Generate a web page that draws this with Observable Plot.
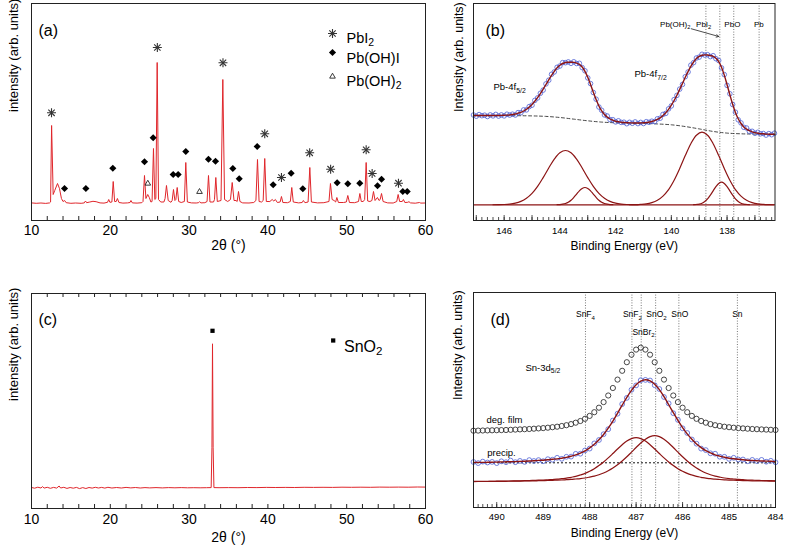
<!DOCTYPE html>
<html><head><meta charset="utf-8">
<script src="https://cdn.jsdelivr.net/npm/d3@7"></script>
<script src="https://cdn.jsdelivr.net/npm/@observablehq/plot@0.6"></script>
<style>
body{margin:0;background:#fff}
#wrap{position:relative;width:787px;height:552px;background:#fff;overflow:hidden}
</style></head><body><div id="wrap"></div>
<script>
// ---------- (a) XRD of degraded film ----------
const aAngle = [10.0,10.6,11.2,11.8,12.3,12.42,12.55,12.75,12.95,13.3,13.55,13.8,14.0,14.2,14.4,15.0,15.6,16.3,16.7,16.85,17.0,17.4,17.8,18.2,18.7,19.2,19.65,19.8,19.95,20.2,20.37,20.55,20.75,20.9,21.1,21.6,22.2,22.5,22.62,22.8,23.4,24.0,24.15,24.34,24.52,24.75,24.95,25.15,25.3,25.48,25.65,25.78,25.95,26.12,26.4,26.8,26.95,27.13,27.35,27.7,27.85,28.02,28.2,28.32,28.49,28.68,29.0,29.4,29.58,29.78,30.3,30.9,31.2,31.32,31.5,32.0,32.28,32.46,32.65,33.1,33.22,33.39,33.58,34.05,34.28,34.5,34.9,35.25,35.47,35.7,35.95,36.1,36.27,36.45,36.8,37.6,38.2,38.48,38.68,38.88,39.2,39.4,39.6,39.8,40.25,40.54,40.75,40.95,41.2,41.55,41.72,41.9,42.5,42.85,43.03,43.22,43.9,44.35,44.5,44.7,45.1,45.32,45.52,46.3,47.1,47.75,47.94,48.15,48.4,48.6,48.75,48.95,49.6,49.95,50.14,50.35,51.0,51.5,51.67,51.85,52.1,52.28,52.47,52.66,52.95,53.2,53.4,53.6,53.9,54.1,54.25,54.42,54.62,55.2,55.9,56.35,56.53,56.72,57.05,57.2,57.38,57.75,57.9,58.1,58.7,59.25,59.4,60.0];
const aInt = [0.6,0.2,0.5,0.1,0.6,1.5,78,9,13,20,15,5,2,3,0.8,0.2,0.5,0.2,0.6,2.5,0.8,1.5,2.2,1.8,0.6,0.4,1.2,4,1.2,1.5,22,2,2,5,1,0.4,0.6,1,3,0.6,0.4,0.8,2,28,5,9,6,1.5,2,55,4,5,141,4,1.5,1.5,5,18,3,1.2,3,14,3,4,16,2,1,2,41,1.5,0.6,0.5,0.8,1.8,0.6,0.8,2,28,1.5,1.5,4,26,2,3,124,4,2,4,21,3,3,2,12,2,0.6,0.5,1,3,44,2,1.5,3,45,2,2,4,2.5,4,1,1.5,7,1,0.8,2,16,1.5,0.6,1,3,0.8,1.5,36,1.5,0.6,0.8,2,20,4,3,1.5,6,1,1,1.5,8,1,0.8,2,10,2,2,4,41,2.5,2,3,12,3,6,3,4,10,2,0.6,0.5,2,9,2,2,4,1,1.2,1.8,0.6,0.3,1,0.4,0.5];
const pbi2Angle = [12.54,25.97,34.3,39.6,41.72,45.3,47.96,52.47,53.23,56.57];
const pbi2Mark  = [90.7,156,140.7,69.7,26,50.7,34.3,53.7,30,20.3];
const pbohiAngle = [14.19,16.9,20.32,24.34,25.44,27.98,28.61,29.58,32.46,33.35,35.55,36.36,38.64,40.67,42.95,44.43,48.79,50.14,51.66,53.91,54.42,57.12,57.68];
const pbohiMark  = [15,15,35.3,41.7,65.7,29,29,52,44.3,42.3,35,24.7,57,18.7,30.3,14.7,20.7,19.7,20.3,17.7,24.3,12,12];
const pboh2Angle = [24.76,31.32];
const pboh2Mark  = [20,11.7];
const aLegend = ["PbI_{2}","Pb(OH)I","Pb(OH)_{2}"];
const twoThetaTicks = [10,20,30,40,50,60];

// ---------- (c) XRD of precipitate ----------
const cAngle = [10.0,10.4,10.8,11.2,11.4,11.6,12.0,12.4,12.8,13.2,13.5,13.7,14.1,14.5,14.9,15.3,15.7,16.1,16.5,16.9,17.3,17.7,18.1,18.5,18.9,19.3,19.7,20.2,20.8,21.4,22.0,22.6,23.2,23.8,24.4,25.0,25.8,26.6,27.4,28.2,29.0,29.8,30.6,31.4,32.2,32.8,32.9,32.97,33.05,33.15,33.8,35.0,36.2,37.4,38.6,39.8,41.0,42.2,43.4,44.6,45.8,47.0,48.2,49.4,50.6,51.8,53.0,54.2,55.4,56.6,57.8,59.0,60.0];
const cInt = [0.3,-0.4,0.6,-0.2,1.2,-0.3,0.5,-0.5,0.4,-0.3,1.8,-0.2,0.5,-0.6,0.3,-0.4,0.4,-0.8,0.2,-0.7,0.3,-0.3,0.5,-0.2,0.4,-0.3,0.5,-0.2,0.3,-0.2,0.4,-0.1,0.3,-0.2,0.2,-0.1,0.2,-0.1,0.2,0,0.2,0,0.1,0,0.1,0.2,40,144,40,0.2,0.1,0.2,0.1,0.3,0.2,0.4,0.3,0.4,0.3,0.5,0.4,0.5,0.4,0.6,0.5,0.6,0.5,0.7,0.6,0.7,0.6,0.8,0.7];
const sno2Angle = [32.97];
const sno2Mark = [157];

// ---------- (b) XPS Pb-4f ----------
const bE = [147.1,147.0,146.9,146.8,146.7,146.6,146.5,146.4,146.3,146.2,146.1,146.0,145.9,145.8,145.7,145.6,145.5,145.4,145.3,145.2,145.1,145.0,144.9,144.8,144.7,144.6,144.5,144.4,144.3,144.2,144.1,144.0,143.9,143.8,143.7,143.6,143.5,143.4,143.3,143.2,143.1,143.0,142.9,142.8,142.7,142.6,142.5,142.4,142.3,142.2,142.1,142.0,141.9,141.8,141.7,141.6,141.5,141.4,141.3,141.2,141.1,141.0,140.9,140.8,140.7,140.6,140.5,140.4,140.3,140.2,140.1,140.0,139.9,139.8,139.7,139.6,139.5,139.4,139.3,139.2,139.1,139.0,138.9,138.8,138.7,138.6,138.5,138.4,138.3,138.2,138.1,138.0,137.9,137.8,137.7,137.6,137.5,137.4,137.3,137.2,137.1,137.0,136.9,136.8,136.7,136.6,136.5,136.4,136.3];
const bData = [89.8,88.6,90.2,89.1,89.6,88.3,89.9,88.9,90.4,88.7,89.9,88.9,90.6,89.7,90.6,89.8,92.2,92.1,94.9,94.9,98.2,99.6,104.4,106.9,111.5,114.7,120.9,124.6,130.5,132.9,137.5,138.8,142.2,142.1,142.9,141.5,143.0,141.3,141.5,137.2,134.0,126.9,121.2,112.3,105.6,97.8,94.5,89.9,88.8,85.2,85.1,82.9,84.0,82.4,82.6,81.1,82.5,81.5,82.9,81.2,82.4,81.3,83.1,82.5,83.6,83.2,86.0,86.6,90.4,91.4,95.9,98.9,105.2,109.4,115.7,120.4,128.1,132.8,139.6,142.2,146.8,147.7,150.5,149.7,150.1,148.2,149.1,146.1,144.3,136.9,130.2,119.4,111.0,100.3,92.6,85.0,81.9,77.5,76.8,73.5,73.5,71.5,72.5,71.0,71.3,69.7,71.2,70.1,71.6];
const bFit = [89.3,89.3,89.3,89.3,89.3,89.3,89.3,89.3,89.3,89.3,89.4,89.6,89.7,89.9,90.3,90.8,91.6,92.5,93.8,95.5,97.7,100.3,103.5,107.1,111.2,115.7,120.3,125.0,129.4,133.5,137.0,139.5,141.3,142.3,142.6,142.5,142.4,141.7,140.4,137.8,133.5,127.6,120.3,112.5,105.3,98.8,93.9,90.3,87.7,85.8,84.6,83.6,83.1,82.6,82.3,82.1,81.9,81.9,81.8,81.8,81.9,82.0,82.2,82.7,83.3,84.2,85.4,87.0,89.3,92.0,95.4,99.6,104.3,109.6,115.4,121.4,127.5,133.2,138.5,142.8,146.3,148.4,149.6,149.9,149.8,149.2,148.5,146.5,143.2,137.5,129.7,120.1,110.1,100.5,92.3,86.0,81.3,77.9,75.7,74.1,73.0,72.2,71.6,71.2,71.0,70.7,70.6,70.5,70.5];
const bBgE = [147.1,146.0,145.0,144.5,144.0,143.5,143.0,142.5,142.0,141.0,140.5,140.0,139.5,139.0,138.5,138.0,137.5,137.0,136.28];
const bBgI = [89.3,89.2,88.9,88.4,87.3,85.65,84.0,82.7,82.0,81.4,80.85,80.0,78.25,75.9,73.35,71.7,71.0,70.7,70.4];
const bComp1 = [[146.4,0.04],[146.2,0.11],[146.0,0.29],[145.8,0.7],[145.6,1.6],[145.4,3.4],[145.2,6.5],[145.0,11.4],[144.8,18.4],[144.6,27.2],[144.4,36.8],[144.2,45.7],[144.0,52.0],[143.8,54.3],[143.6,52.0],[143.4,45.7],[143.2,36.8],[143.0,27.2],[142.8,18.4],[142.6,11.4],[142.4,6.5],[142.2,3.4],[142.0,1.6],[141.8,0.7],[141.6,0.29],[141.4,0.11],[141.2,0.04]];
const bComp2 = [[144.1,0.1],[144.0,0.2],[143.9,0.6],[143.8,1.3],[143.7,2.5],[143.6,4.5],[143.5,7.4],[143.4,10.7],[143.3,14.0],[143.2,16.4],[143.1,17.3],[143.0,16.4],[142.9,14.0],[142.8,10.7],[142.7,7.4],[142.6,4.5],[142.5,2.5],[142.4,1.3],[142.3,0.6],[142.2,0.2],[142.1,0.1]];
const bComp3 = [[141.5,0.05],[141.3,0.15],[141.1,0.4],[140.9,0.9],[140.7,2.2],[140.5,4.5],[140.3,8.7],[140.1,15.2],[139.9,24.6],[139.7,36.3],[139.5,49.2],[139.3,61.1],[139.1,69.6],[138.9,72.6],[138.7,69.6],[138.5,61.1],[138.3,49.2],[138.1,36.3],[137.9,24.6],[137.7,15.2],[137.5,8.7],[137.3,4.5],[137.1,2.2],[136.9,0.9],[136.7,0.4],[136.5,0.15],[136.3,0.05]];
const bComp4 = [[139.2,0.1],[139.1,0.3],[139.0,0.7],[138.9,1.6],[138.8,3.3],[138.7,5.9],[138.6,9.6],[138.5,14.0],[138.4,18.2],[138.3,21.4],[138.2,22.6],[138.1,21.4],[138.0,18.2],[137.9,14.0],[137.8,9.6],[137.7,5.9],[137.6,3.3],[137.5,1.6],[137.4,0.7],[137.3,0.3],[137.2,0.1]];
const bRefE = [138.76,138.26,137.76,136.85];
const bRefLabels = ["Pb(OH)_{2}","PbI_{2}","PbO","Pb"];
const bRefLabelE = [139.86,138.84,137.81,136.86];
const bTickLabels = [146,144,142,140,138];

// ---------- (d) XPS Sn-3d5/2 ----------
const dE = [490.5,490.4,490.3,490.2,490.1,490.0,489.9,489.8,489.7,489.6,489.5,489.4,489.3,489.2,489.1,489.0,488.9,488.8,488.7,488.6,488.5,488.4,488.3,488.2,488.1,488.0,487.9,487.8,487.7,487.6,487.5,487.4,487.3,487.2,487.1,487.0,486.9,486.8,486.7,486.6,486.5,486.4,486.3,486.2,486.1,486.0,485.9,485.8,485.7,485.6,485.5,485.4,485.3,485.2,485.1,485.0,484.9,484.8,484.7,484.6,484.5,484.4,484.3,484.2,484.1,484.0];
const dDeg = [51.5,51.6,51.7,51.8,51.9,52.0,52.1,52.2,52.4,52.6,52.8,53.0,53.2,53.5,53.8,54.1,54.5,55.0,55.5,56.2,57.0,58.1,59.5,61.2,63.4,66.3,70.0,74.5,80.1,86.7,94.2,102.6,111.4,120.0,127.5,132.6,134.5,132.6,127.5,120.0,111.4,102.6,94.2,86.7,80.1,74.5,70.0,66.3,63.4,61.2,59.5,58.1,57.0,56.2,55.5,55.0,54.5,54.1,53.8,53.5,53.2,53.0,52.8,52.6,52.4,52.2];
const dPrecip = [20.2,19.1,20.6,19.7,20.3,19.1,20.9,20.0,21.6,20.0,21.3,20.3,22.1,21.2,22.1,21.0,23.0,22.5,24.4,23.4,25.4,25.6,28.4,28.5,31.8,33.6,38.8,42.2,48.0,53.0,61.7,68.5,78.1,84.3,92.4,96.8,102.0,102.3,101.7,97.0,93.2,85.2,78.8,69.0,62.3,53.9,49.2,42.7,38.5,33.6,32.1,28.9,28.5,25.5,25.4,23.3,24.4,22.7,22.7,21.0,22.3,21.1,22.3,20.5,21.4,19.9];
const dFit = [19.7,19.8,19.8,19.9,20.0,20.1,20.3,20.4,20.5,20.6,20.8,21.0,21.2,21.4,21.8,22.0,22.4,22.9,23.3,24.0,24.8,26.0,27.3,29.1,31.3,34.3,37.9,42.4,47.7,54.0,61.1,68.9,77.0,84.9,91.9,97.5,101.1,102.5,101.4,98.0,92.6,85.6,77.7,69.6,61.8,54.6,48.3,42.9,38.2,34.6,31.5,29.3,27.4,26.1,24.9,24.0,23.5,22.9,22.4,22.0,21.7,21.5,21.2,21.1,20.9,20.6];
const dCompA = [0.8,0.8,0.8,0.9,0.9,1.0,1.1,1.2,1.2,1.3,1.4,1.5,1.6,1.8,2.0,2.1,2.4,2.7,3.0,3.5,4.0,4.9,5.8,7.2,8.8,10.9,13.5,16.6,20.2,24.3,28.7,33.2,37.5,41.2,43.6,44.5,43.6,41.2,37.5,33.2,28.7,24.3,20.2,16.6,13.5,10.9,8.8,7.2,5.8,4.9,4.0,3.5,3.0,2.7,2.4,2.1,2.0,1.8,1.6,1.5,1.4,1.3,1.2,1.2,1.1,1.0];
const dCompB = [0.6,0.7,0.7,0.7,0.8,0.8,0.9,0.9,1.0,1.0,1.1,1.2,1.3,1.3,1.5,1.6,1.7,1.9,2.0,2.2,2.5,2.8,3.2,3.6,4.2,5.1,6.1,7.5,9.2,11.4,14.1,17.4,21.2,25.4,30.0,34.7,39.2,43.0,45.6,46.5,45.6,43.0,39.2,34.7,30.0,25.4,21.2,17.4,14.1,11.4,9.2,7.5,6.1,5.1,4.2,3.6,3.2,2.8,2.5,2.2,2.0,1.9,1.7,1.6,1.5,1.3];
const dPrecipBase = [19.4];
const dRefE = [488.09,487.09,486.89,486.58,486.08,484.82];
const dRefLabels = ["SnF_{4}","SnF_{2}","SnO_{2}","SnO","Sn"];
const dRefLabelE = [488.09,487.08,486.56,486.06,484.82];
const dRefLabel2 = ["SnBr_{2}"];
const dRefLabel2E = [486.84];
const dTickLabels = [490,489,488,487,486,485,484];

// ---------- rendering ----------
const FONT = "'Liberation Sans', Arial, Helvetica, sans-serif";
const RED = "#e0262b", DARK = "#8c1414", BLUE = "#4d60d4", INK = "#222";
const wrap = document.getElementById("wrap");
const intFmt = d => String(d);

function applySubs(svg) {
  for (const t of svg.querySelectorAll("text")) {
    const s = t.textContent;
    if (!s.includes("_{")) continue;
    const g = t.closest("[font-size]");
    const fs = parseFloat(g ? g.getAttribute("font-size") : 10) || 10;
    const shift = fs * (fs > 12 ? 0.2 : 0.3);
    while (t.firstChild) t.removeChild(t.firstChild);
    let down = false;
    for (const p of s.split(/(_\{[^}]*\})/)) {
      if (!p) continue;
      const ts = document.createElementNS("http://www.w3.org/2000/svg", "tspan");
      if (p.startsWith("_{")) {
        ts.textContent = p.slice(2, -1);
        ts.setAttribute("font-size", fs * 0.72);
        ts.setAttribute("dy", shift);
        down = true;
      } else {
        ts.textContent = p;
        if (down) { ts.setAttribute("dy", -shift); down = false; }
      }
      t.appendChild(ts);
    }
  }
}
function place(svg, left, top) {
  svg.style.position = "absolute";
  svg.style.left = left + "px";
  svg.style.top = top + "px";
  svg.style.maxWidth = "none";
  svg.style.background = "transparent";
  wrap.appendChild(svg);
  applySubs(svg);
}
const base = {style: {fontFamily: FONT, background: "transparent", overflow: "visible", color: "#000"}};

// (a)
{
  const H = 262, mt = 3, mb = 42, inner = H - mt - mb;
  const minor = d3.range(12, 60, 2);
  const svg = Plot.plot({
    ...base, width: 440, height: H, marginLeft: 31, marginRight: 15, marginTop: mt, marginBottom: mb,
    x: {domain: [10, 60], axis: null}, y: {domain: [-17, 200], axis: null},
    marks: [
      Plot.line(aInt, {x: aAngle, y: aInt, stroke: RED, strokeWidth: 1}),
      Plot.dot(pbi2Mark, {x: pbi2Angle, y: pbi2Mark, symbol: "plus", r: 3, stroke: "#333", strokeWidth: 1.1}),
      Plot.dot(pbi2Mark, {x: pbi2Angle, y: pbi2Mark, symbol: "times", r: 3, stroke: "#333", strokeWidth: 1.1}),
      Plot.dot(pbohiMark, {x: pbohiAngle, y: pbohiMark, symbol: "diamond2", r: 3.2, fill: "#000", stroke: "none"}),
      Plot.dot(pboh2Mark, {x: pboh2Angle, y: pboh2Mark, symbol: "triangle2", r: 2.7, fill: "none", stroke: "#222", strokeWidth: 0.9}),
      // legend
      Plot.dot([0], {frameAnchor: "top-left", dx: 301, dy: 30, symbol: "plus", r: 3, stroke: "#333", strokeWidth: 1.1}),
      Plot.dot([0], {frameAnchor: "top-left", dx: 301, dy: 30, symbol: "times", r: 3, stroke: "#333", strokeWidth: 1.1}),
      Plot.dot([0], {frameAnchor: "top-left", dx: 301, dy: 49, symbol: "diamond2", r: 3.2, fill: "#000", stroke: "none"}),
      Plot.dot([0], {frameAnchor: "top-left", dx: 301, dy: 73, symbol: "triangle2", r: 2.7, fill: "none", stroke: "#222", strokeWidth: 0.9}),
      Plot.text([aLegend[0]], {frameAnchor: "top-left", dx: 315, dy: 29.5, textAnchor: "start", fontSize: 14.5}),
      Plot.text([aLegend[1]], {frameAnchor: "top-left", dx: 315, dy: 49, textAnchor: "start", fontSize: 14.5}),
      Plot.text([aLegend[2]], {frameAnchor: "top-left", dx: 315, dy: 72, textAnchor: "start", fontSize: 14.5}),
      Plot.text(["(a)"], {frameAnchor: "top-left", dx: 7, dy: 21, textAnchor: "start", fontSize: 16}),
      Plot.frame({stroke: INK}),
      Plot.tickX(minor, {x: d => d, insetTop: inner - 4, stroke: INK}),
      Plot.axisX({ticks: twoThetaTicks, tickFormat: intFmt, tickSize: 0, tickPadding: 4.3, fontSize: 14, label: null}),
      Plot.text(["2θ (°)"], {frameAnchor: "bottom", dy: 29.5, fontSize: 14}),
      Plot.text(["intensity (arb. units)"], {frameAnchor: "left", rotate: -90, dx: -18, fontSize: 13})
    ]
  });
  place(svg, 0, 0);
}

// (c)
{
  const H = 290, mt = 31, mb = 44, inner = H - mt - mb;
  const minor = d3.range(12, 60, 2);
  const svg = Plot.plot({
    ...base, width: 440, height: H, marginLeft: 31, marginRight: 15, marginTop: mt, marginBottom: mb,
    x: {domain: [10, 60], axis: null}, y: {domain: [-20.7, 194.3], axis: null},
    marks: [
      Plot.line(cInt, {x: cAngle, y: cInt, stroke: RED, strokeWidth: 1}),
      Plot.dot(sno2Mark, {x: sno2Angle, y: sno2Mark, symbol: "square", r: 2.4, fill: "#000", stroke: "none"}),
      Plot.dot([0], {frameAnchor: "top-left", dx: 301.7, dy: 47, symbol: "square", r: 2.4, fill: "#000", stroke: "none"}),
      Plot.text(["SnO_{2}"], {frameAnchor: "top-left", dx: 312.5, dy: 47, textAnchor: "start", fontSize: 16}),
      Plot.text(["(c)"], {frameAnchor: "top-left", dx: 7, dy: 20.5, textAnchor: "start", fontSize: 16}),
      Plot.frame({stroke: INK}),
      Plot.tickX(minor, {x: d => d, insetTop: inner - 4, stroke: INK}),
      Plot.tickX(minor, {x: d => d, insetBottom: inner - 4, stroke: INK}),
      Plot.axisX({ticks: twoThetaTicks, tickFormat: intFmt, tickSize: 0, tickPadding: 5.3, fontSize: 14, label: null}),
      Plot.text(["2θ (°)"], {frameAnchor: "bottom", dy: 33.7, fontSize: 14}),
      Plot.text(["intensity (arb. units)"], {frameAnchor: "left", rotate: -90, dx: -18, fontSize: 13})
    ]
  });
  place(svg, 0, 262);
}

// (b)
{
  const H = 262, mt = 3, mb = 42, inner = H - mt - mb;
  const minor = d3.range(682, 736).map(k => k / 5);
  const major = d3.range(137, 148);
  const comps = [bComp1, bComp2, bComp3, bComp4];
  const svg = Plot.plot({
    ...base, width: 347, height: H, marginLeft: 33, marginRight: 12.5, marginTop: mt, marginBottom: mb,
    x: {domain: [147.1, 136.28], axis: null}, y: {domain: [-15.7, 201.3], axis: null},
    marks: [
      Plot.ruleX(bRefE, {stroke: "#555", strokeWidth: 0.8, strokeDasharray: "1,1.6"}),
      Plot.line(bBgI, {x: bBgE, y: bBgI, curve: "catmull-rom", stroke: "#333", strokeWidth: 0.9, strokeDasharray: "3,2.5"}),
      Plot.ruleY([0], {stroke: DARK, strokeWidth: 1.3}),
      ...comps.map(c => Plot.line(c, {x: d => d[0], y: d => d[1], curve: "catmull-rom", stroke: DARK, strokeWidth: 1.2})),
      Plot.dot(bData, {x: bE, y: bData, r: 2.3, stroke: BLUE, strokeWidth: 0.8, fill: "none"}),
      Plot.line(bFit, {x: bE, y: bFit, curve: "catmull-rom", stroke: DARK, strokeWidth: 1.4}),
      Plot.text(bRefLabels, {x: bRefLabelE, frameAnchor: "top", dy: 17.7, fontSize: 8}),
      Plot.arrow([0], {x1: [139.28], y1: [176], x2: [138.3], y2: [168.3], stroke: "#222", strokeWidth: 0.8, headLength: 5}),
      Plot.text(["Pb-4f_{5/2}"], {frameAnchor: "top-left", dx: 20, dy: 80, textAnchor: "start", fontSize: 9.5}),
      Plot.text(["Pb-4f_{7/2}"], {frameAnchor: "top-left", dx: 161, dy: 67, textAnchor: "start", fontSize: 9.5}),
      Plot.text(["(b)"], {frameAnchor: "top-left", dx: 12, dy: 21, textAnchor: "start", fontSize: 16}),
      Plot.frame({stroke: INK}),
      Plot.tickX(minor, {x: d => d, insetTop: inner - 3, stroke: INK, strokeWidth: 0.8}),
      Plot.tickX(major, {x: d => d, insetTop: inner - 5, stroke: INK, strokeWidth: 0.8}),
      Plot.axisX({ticks: bTickLabels, tickFormat: intFmt, tickSize: 0, tickPadding: 6.5, fontSize: 9.5, label: null}),
      Plot.text(["Binding Energy (eV)"], {frameAnchor: "bottom", dy: 29, fontSize: 12}),
      Plot.text(["Intensity (arb. units)"], {frameAnchor: "left", rotate: -90, dx: -15, fontSize: 12.5})
    ]
  });
  place(svg, 440, 0);
}

// (d)
{
  const H = 290, mt = 30, mb = 45, inner = H - mt - mb;
  const minor = d3.range(4840, 4906).map(k => k / 10);
  const major = d3.range(484, 491);
  const svg = Plot.plot({
    ...base, width: 347, height: H, marginLeft: 33, marginRight: 12, marginTop: mt, marginBottom: mb,
    x: {domain: [490.5, 484], axis: null}, y: {domain: [-25.3, 189.7], axis: null},
    marks: [
      Plot.ruleX(dRefE, {stroke: "#555", strokeWidth: 0.8, strokeDasharray: "1,1.6"}),
      Plot.ruleY(dPrecipBase, {stroke: "#111", strokeWidth: 1, strokeDasharray: "2,2"}),
      Plot.line(dCompA, {x: dE, y: dCompA, curve: "catmull-rom", stroke: DARK, strokeWidth: 1.2}),
      Plot.line(dCompB, {x: dE, y: dCompB, curve: "catmull-rom", stroke: DARK, strokeWidth: 1.2}),
      Plot.dot(dDeg, {x: dE, y: dDeg, r: 2.6, stroke: "#333", strokeWidth: 0.9, fill: "none"}),
      Plot.dot(dPrecip, {x: dE, y: dPrecip, r: 2.4, stroke: BLUE, strokeWidth: 0.8, fill: "none"}),
      Plot.line(dFit, {x: dE, y: dFit, curve: "catmull-rom", stroke: DARK, strokeWidth: 1.4}),
      Plot.text(dRefLabels, {x: dRefLabelE, frameAnchor: "top", dy: 18.7, fontSize: 8.5}),
      Plot.text(dRefLabel2, {x: dRefLabel2E, frameAnchor: "top", dy: 36.3, fontSize: 8.5}),
      Plot.text(["Sn-3d_{5/2}"], {frameAnchor: "top-left", dx: 52, dy: 71.3, textAnchor: "start", fontSize: 9.5}),
      Plot.text(["deg. film"], {frameAnchor: "top-left", dx: 13, dy: 123.7, textAnchor: "start", fontSize: 9.5}),
      Plot.text(["precip."], {frameAnchor: "top-left", dx: 13.7, dy: 157, textAnchor: "start", fontSize: 9.5}),
      Plot.text(["(d)"], {frameAnchor: "top-left", dx: 17, dy: 21.3, textAnchor: "start", fontSize: 16}),
      Plot.frame({stroke: INK}),
      Plot.tickX(minor, {x: d => d, insetTop: inner - 3, stroke: INK, strokeWidth: 0.8}),
      Plot.tickX(major, {x: d => d, insetTop: inner - 5, stroke: INK, strokeWidth: 0.8}),
      Plot.axisX({ticks: dTickLabels, tickFormat: intFmt, tickSize: 0, tickPadding: 6, fontSize: 9.5, label: null}),
      Plot.text(["Binding Energy (eV)"], {frameAnchor: "bottom", dy: 29.7, fontSize: 12}),
      Plot.text(["Intensity (arb. units)"], {frameAnchor: "left", rotate: -90, dx: -16, fontSize: 12.5})
    ]
  });
  place(svg, 440, 262);
}
</script></body></html>
